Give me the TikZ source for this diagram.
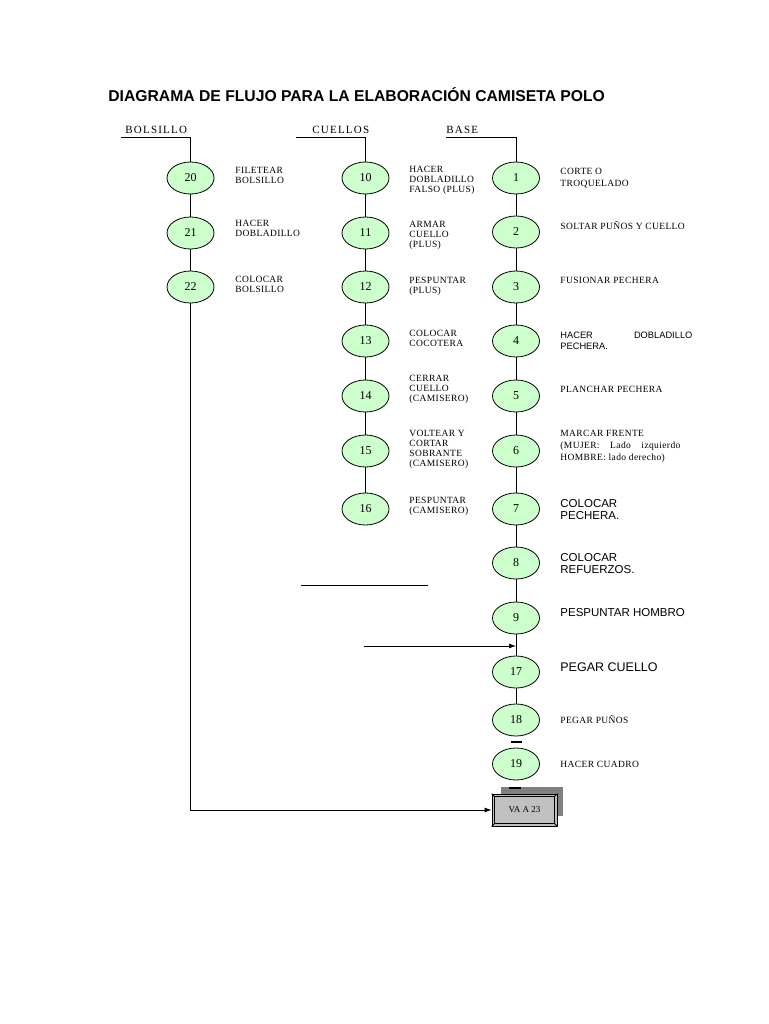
\documentclass[tikz,border=0pt]{standalone}
\usepackage{fontspec}
\setmainfont{Liberation Serif}
\newfontfamily\arialfont{Liberation Sans}
\newfontfamily\hdrfont[LetterSpace=11]{Liberation Serif}
\newfontfamily\lblfont[LetterSpace=4]{Liberation Serif}
\usetikzlibrary{shapes.geometric,arrows.meta,calc}
\definecolor{opgreen}{RGB}{204,255,204}
\definecolor{boxgray}{RGB}{192,192,192}
\definecolor{shadowgray}{RGB}{128,128,128}

\begin{document}
\begin{tikzpicture}[x=1pt,y=-1pt,line width=0.8pt,
  >={Latex[length=7pt,width=5pt]},
  op/.style={ellipse,draw,fill=opgreen,minimum width=47pt,minimum height=32pt,
    inner sep=0pt,font=\fontsize{12}{14}\selectfont},
  lbl/.style={anchor=north west,inner sep=0pt,align=left,font=\lblfont\fontsize{9.5}{10}\selectfont},
  lblsf/.style={anchor=north west,inner sep=0pt,align=left,font=\arialfont\fontsize{11.5}{12.5}\selectfont},
  hdr/.style={anchor=base west,inner sep=0pt,font=\hdrfont\fontsize{11}{13}\selectfont}]

  \useasboundingbox[fill=white] (0,0) rectangle (768,1024);

  \node[anchor=base west,inner sep=0pt,font=\arialfont\bfseries\fontsize{15.7}{18}\selectfont]
    (title) at (108,101.5) {DIAGRAMA DE FLUJO PARA LA ELABORACIÓN CAMISETA POLO};

  \node[hdr] (hbol) at (125,134) {BOLSILLO};
  \node[hdr] (hcue) at (312,134) {CUELLOS};
  \node[hdr] (hbas) at (446,134) {BASE};

  % bolsillo
  \foreach \n/\y in {20/178,21/233,22/287}
    \node[op] (e\n) at (190.5,\y) {\n};
  % cuellos
  \foreach \n/\y in {10/178,11/233,12/287,13/341,14/396,15/451,16/509}
    \node[op] (e\n) at (365.5,\y) {\n};
  % base
  \foreach \n/\y in {1/178,2/232,3/287,4/341,5/396,6/451,7/509,8/563,9/618,17/672,18/720,19/764}
    \node[op] (e\n) at (516,\y) {\n};

  \coordinate (bol0) at (121,137);
  \coordinate (cue0) at (296,137);
  \coordinate (bas0) at (446,137);
  \draw (bol0) -| (e20.north);
  \draw (cue0) -| (e10.north);
  \draw (bas0) -| (e1.north);

  \foreach \a/\b in {20/21,21/22,10/11,11/12,12/13,13/14,14/15,15/16,
                     1/2,2/3,3/4,4/5,5/6,6/7,7/8,8/9,9/17,17/18}
    \draw (e\a) -- (e\b);
  \draw[line width=1.2pt] ($(e18.south)!0.5!(e19.north)+(-5.5,0)$) -- ++(11,0);

  \node[lbl] (t20) at (235,167.2) {FILETEAR\\BOLSILLO};
  \node[lbl] (t21) at (235,220.2) {HACER\\DOBLADILLO};
  \node[lbl] (t22) at (235,276.2) {COLOCAR\\BOLSILLO};

  \node[lbl] (t10) at (409,166.2) {HACER\\DOBLADILLO\\FALSO (PLUS)};
  \node[lbl] (t11) at (409,221.2) {ARMAR\\CUELLO\\(PLUS)};
  \node[lbl] (t12) at (409,277.2) {PESPUNTAR\\(PLUS)};
  \node[lbl] (t13) at (409,330.2) {COLOCAR\\COCOTERA};
  \node[lbl] (t14) at (409,375.2) {CERRAR\\CUELLO\\(CAMISERO)};
  \node[lbl] (t15) at (409,430.2) {VOLTEAR Y\\CORTAR\\SOBRANTE\\(CAMISERO)};
  \node[lbl] (t16) at (409,497.2) {PESPUNTAR\\(CAMISERO)};

  \node[lbl,font=\lblfont\fontsize{9.5}{12}\selectfont] (t1) at (560,168.2) {CORTE O\\TROQUELADO};
  \node[lbl,anchor=base west] (t2) at (560,229.5) {SOLTAR PUÑOS Y CUELLO};
  \node[lbl,anchor=base west] (t3) at (560,283.5) {FUSIONAR PECHERA};
  \node[lbl,font=\arialfont\fontsize{9.3}{11}\selectfont] (t4) at (560,331.8)
    {\makebox[132pt][s]{HACER DOBLADILLO}\\PECHERA.};
  \node[lbl,anchor=base west] (t5) at (560,392.5) {PLANCHAR PECHERA};
  \node[lbl,font=\lblfont\fontsize{9.5}{12}\selectfont] (t6) at (560,430.2)
    {MARCAR FRENTE\\\makebox[120pt][s]{(MUJER: Lado izquierdo}\\HOMBRE: lado derecho)};
  \node[lblsf] (t7) at (560,498.8) {COLOCAR\\PECHERA.};
  \node[lblsf] (t8) at (560,552.8) {COLOCAR\\REFUERZOS.};
  \node[lblsf,anchor=base west] (t9) at (560,616) {PESPUNTAR HOMBRO};
  \node[lblsf,anchor=base west,font=\arialfont\fontsize{12.5}{14}\selectfont] (t17) at (560,671.5) {PEGAR CUELLO};
  \node[lbl,anchor=base west] (t18) at (560,723.5) {PEGAR PUÑOS};
  \node[lbl,anchor=base west] (t19) at (560,767.5) {HACER CUADRO};

  \draw (301,585) -- (428,585);
  \coordinate (cin) at (364,646);
  \draw[->] (cin) -- (cin -| e9);

  \fill[shadowgray] (501,787) rectangle (563,816);
  \draw[line width=1.2pt] (509,788) -- (521,788);
  \node[draw,fill=boxgray,minimum width=65pt,minimum height=32pt,inner sep=0pt,
    font=\fontsize{9}{10}\selectfont] (va) at (524.5,810) {VA A 23};
  \draw ([shift={(3,3)}]va.north west) rectangle ([shift={(-3,-3)}]va.south east);
  \draw (va.north west) -- ++(3,3);
  \draw (va.north east) -- ++(-3,3);
  \draw (va.south west) -- ++(3,-3);
  \draw (va.south east) -- ++(-3,-3);
  \draw[->] (e22) |- (va);
\end{tikzpicture}
\end{document}
